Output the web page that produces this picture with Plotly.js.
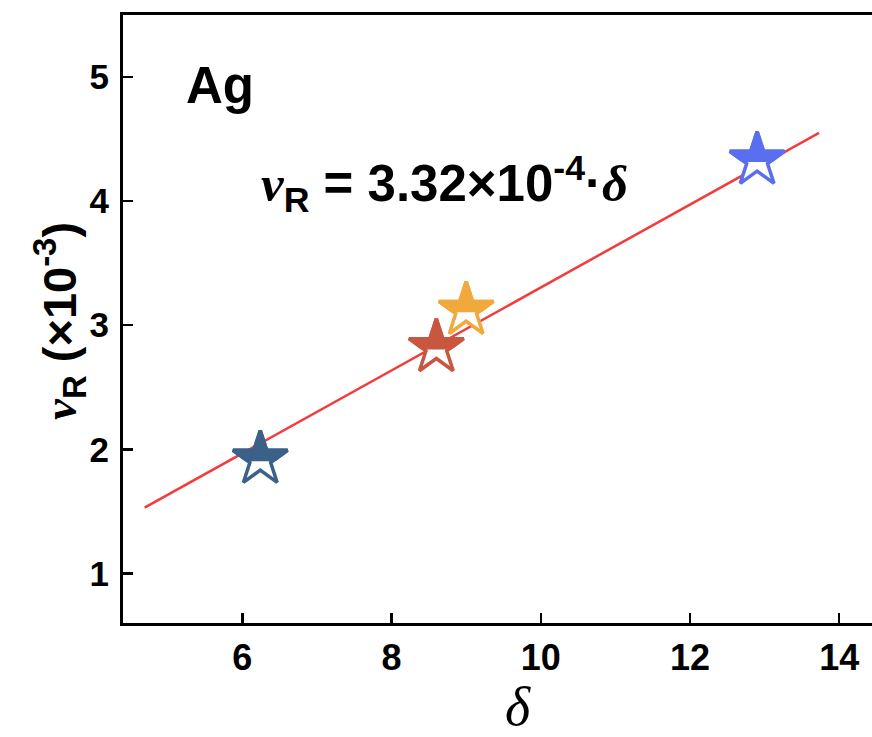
<!DOCTYPE html>
<html>
<head>
<meta charset="utf-8">
<script src="https://cdn.plot.ly/plotly-3.0.1.min.js"></script>
<style>html,body{margin:0;padding:0;background:#fff;}#chart{width:872px;height:737px;}</style>
</head>
<body>
<div id="chart"></div>
<script>
// Data
const pointDelta = [6.24, 8.60, 9.00, 12.90];
const pointNuR = [1.92, 2.82, 3.12, 4.33];
const pointColors = ['#3b6189', '#c9563f', '#f2a93b', '#5a6ef0'];
const fitDelta = [4.69, 13.73];
const fitNuR = [1.53, 4.55];
const xTicks = [6, 8, 10, 12, 14];
const yTicks = [1, 2, 3, 4, 5];

const serif = 'Liberation Serif, Times New Roman, serif';
const sans = 'Liberation Sans, Arial, sans-serif';
const narrow = '"Liberation Sans Narrow", "Arial Narrow", Liberation Sans, Arial, sans-serif';

const traces = [
  {x: fitDelta, y: fitNuR, mode: 'lines', line: {color: '#f23b3b', width: 2.5}, hoverinfo: 'skip'},
  {x: pointDelta, y: pointNuR, mode: 'markers',
   marker: {symbol: 'star', size: 41, color: '#ffffff', line: {color: pointColors, width: 3.5}}},
  {x: pointDelta, y: pointNuR, mode: 'markers',
   marker: {symbol: 'star', size: 41, color: pointColors, line: {color: pointColors, width: 3.5}}}
];

const axisCommon = {
  showline: true, linecolor: '#000', linewidth: 3,
  ticks: 'inside', ticklen: 10, tickwidth: 2.5, tickcolor: '#000',
  showgrid: false, zeroline: false
};

const layout = {
  width: 872, height: 737,
  margin: {l: 123, r: 0, t: 15, b: 114},
  paper_bgcolor: '#fff', plot_bgcolor: '#fff',
  showlegend: false,
  xaxis: Object.assign({}, axisCommon, {
    range: [4.4, 14.44], tickvals: xTicks, mirror: true,
    tickfont: {family: narrow, size: 36, color: '#000', weight: 'bold'},
    ticklabelstandoff: 1
  }),
  yaxis: Object.assign({}, axisCommon, {
    range: [0.6, 5.5], tickvals: yTicks,
    tickfont: {family: sans, size: 35, color: '#000', weight: 'bold'},
    ticklabelstandoff: 4
  }),
  annotations: [
    {x: 5.70, y: 4.935, xref: 'x', yref: 'y', xanchor: 'center', yanchor: 'middle',
     text: 'Ag', showarrow: false,
     font: {family: sans, size: 51, color: '#000', weight: 'bold'}},
    {x: 8.71, y: 4.14, xref: 'x', yref: 'y', xanchor: 'center', yanchor: 'middle', showarrow: false,
     text: '<span style="font-family:Liberation Serif"><i>ν</i></span><sub>R</sub> = 3.32×10<sup>-4</sup>·<span style="font-family:Liberation Serif"><i>δ</i></span>',
     font: {family: sans, size: 51, color: '#000', weight: 'bold'}},
    {x: -0.084, y: 0.497, xref: 'paper', yref: 'paper', xanchor: 'center', yanchor: 'middle',
     showarrow: false, textangle: -90,
     text: '<span style="font-family:Liberation Serif"><i>ν</i></span><sub>R</sub> (×10<sup>-3</sup>)',
     font: {family: sans, size: 47, color: '#000', weight: 'bold'}},
    {x: 0.527, y: -0.138, xref: 'paper', yref: 'paper', xanchor: 'center', yanchor: 'middle',
     showarrow: false,
     text: '<i>δ</i>', font: {family: serif, size: 54, color: '#000'}}
  ]
};

Plotly.newPlot('chart', traces, layout, {displayModeBar: false, staticPlot: true}).then(function(gd) {
  const svg = gd.querySelector('svg.main-svg');
  const NS = 'http://www.w3.org/2000/svg';
  const defs = document.createElementNS(NS, 'defs');
  const cp = document.createElementNS(NS, 'clipPath');
  cp.setAttribute('id', 'halfTopClip');
  cp.setAttribute('clipPathUnits', 'objectBoundingBox');
  const rect = document.createElementNS(NS, 'rect');
  rect.setAttribute('x', '-0.2'); rect.setAttribute('y', '-0.2');
  rect.setAttribute('width', '1.4'); rect.setAttribute('height', '0.79');
  cp.appendChild(rect); defs.appendChild(cp); svg.insertBefore(defs, svg.firstChild);
  const tr = gd.querySelectorAll('.scatterlayer .trace');
  tr[2].querySelectorAll('path.point').forEach(function(p) {
    p.setAttribute('clip-path', 'url(#halfTopClip)');
  });
});
</script>
</body>
</html>
